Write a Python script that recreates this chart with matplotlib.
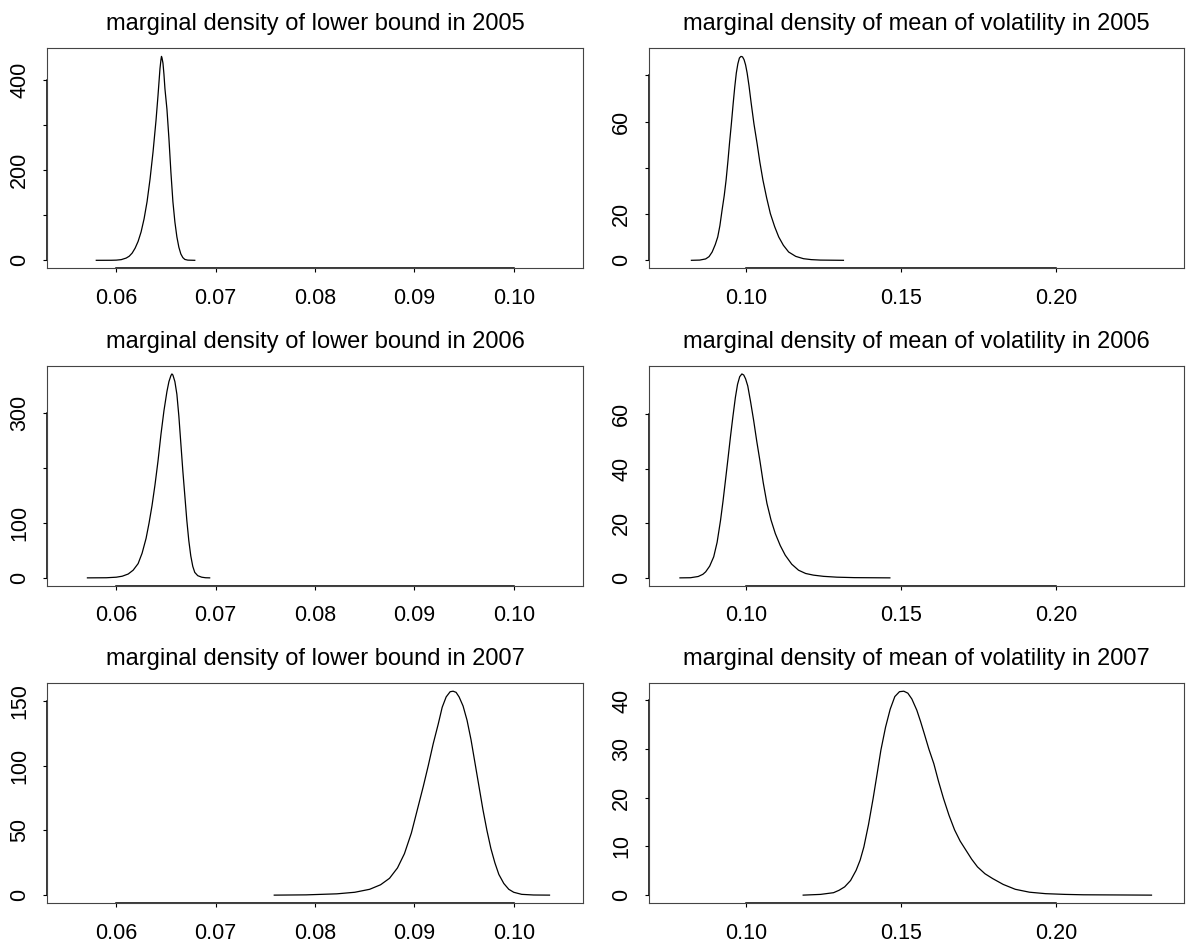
import matplotlib
matplotlib.use('Agg')
import matplotlib.pyplot as plt

plt.rcParams['font.family'] = ['Liberation Sans', 'DejaVu Sans']

# lower bound densities (x, density)
lb05_x = [0.05799, 0.0595, 0.0600, 0.0605, 0.0610, 0.0613, 0.0616, 0.0619, 0.0622, 0.0625, 0.0628,
          0.0631, 0.0634, 0.0637, 0.0640, 0.0642, 0.0643, 0.0644, 0.0645, 0.06455, 0.0646, 0.0647,
          0.0648, 0.0649, 0.0651, 0.0653, 0.0655, 0.0657, 0.0659, 0.0661, 0.0663, 0.0665, 0.0667,
          0.0669, 0.0672, 0.0679]
lb05_y = [0, 0.1, 0.4, 1.5, 5, 9, 16, 27, 42, 63, 92,
          130, 180, 240, 310, 365, 395, 425, 445, 452, 449, 437,
          412, 380, 335, 270, 195, 130, 85, 52, 29, 14, 6,
          2, 0.4, 0]

lb06_x = [0.0571, 0.0590, 0.0600, 0.0606, 0.0612, 0.0617, 0.0622, 0.0626, 0.0630, 0.0633, 0.0636,
          0.0639, 0.0642, 0.0645, 0.0648, 0.0651, 0.0653, 0.0655, 0.0656, 0.0657, 0.0659, 0.0661,
          0.0663, 0.0665, 0.0667, 0.0669, 0.0671, 0.0673, 0.0675, 0.0677, 0.0679, 0.0682, 0.0686,
          0.0690, 0.0694]
lb06_y = [0, 0.2, 1.2, 3, 7, 14, 26, 45, 72, 100, 132,
          170, 213, 262, 305, 340, 358, 369, 372, 370, 358, 335,
          295, 245, 195, 150, 105, 68, 40, 21, 10, 4, 1.2,
          0.2, 0]

lb07_x = [0.0759, 0.0791, 0.0822, 0.0840, 0.0855, 0.0866, 0.0875, 0.0883, 0.0890, 0.0897, 0.0903,
          0.0909, 0.0914, 0.0919, 0.0924, 0.0928, 0.0932, 0.0936, 0.0939, 0.0942, 0.0945, 0.0949,
          0.0953, 0.0957, 0.0961, 0.0965, 0.0969, 0.0973, 0.0977, 0.0981, 0.0985, 0.0990, 0.0995,
          0.1000, 0.1008, 0.1020, 0.1036]
lb07_y = [0, 0.2, 1, 2.2, 4.5, 8, 13, 21, 32, 48, 66,
          84, 100, 117, 132, 145, 153, 157, 157.4, 156.5, 153, 146,
          135, 120, 102, 84, 66, 50, 36, 25, 16, 9, 4.5,
          2.2, 0.6, 0.1, 0]

# mean of volatility densities
mv05_x = [0.0823, 0.0850, 0.0869, 0.0880, 0.0890, 0.0900, 0.0908, 0.0915, 0.0922, 0.0929, 0.0935,
          0.0941, 0.0946, 0.0952, 0.0958, 0.0963, 0.0968, 0.0973, 0.0978, 0.0983, 0.0988, 0.0993,
          0.0998, 0.1003, 0.1009, 0.1016, 0.1025, 0.1035, 0.1044, 0.1054, 0.1066, 0.1078, 0.1092,
          0.1105, 0.1120, 0.1137, 0.1160, 0.1185, 0.1210, 0.1239, 0.1314]
mv05_y = [0, 0.1, 0.6, 1.6, 3.6, 6.8, 10.1, 15, 21.7, 28, 34.7,
          43, 50.6, 59, 68, 75, 81, 85, 87.5, 88.2, 88.0, 86.8,
          84.5, 81, 75.5, 68, 59, 50.6, 42.5, 34.7, 27, 20.2, 14.5,
          10.1, 6.5, 3.6, 1.7, 0.7, 0.3, 0.1, 0]

mv06_x = [0.0786, 0.0820, 0.0845, 0.0860, 0.0869, 0.0882, 0.0895, 0.0906, 0.0917, 0.0925, 0.0933,
          0.0941, 0.0949, 0.0957, 0.0965, 0.0972, 0.0979, 0.0986, 0.0992, 0.0998, 0.1005, 0.1014,
          0.1024, 0.1034, 0.1044, 0.1055, 0.1067, 0.1080, 0.1094, 0.1110, 0.1126, 0.1147, 0.1169,
          0.1192, 0.1217, 0.1250, 0.1293, 0.1350, 0.1464]
mv06_y = [0, 0.05, 0.5, 1.3, 2.2, 4.3, 7.7, 13, 21, 28, 35.7,
          43.5, 51.5, 59, 66, 70.8, 73.6, 74.6, 74.2, 72.8, 70.2, 64.5,
          57.6, 50, 43, 34.8, 27.2, 21.2, 16.2, 11.8, 8.3, 5.0, 2.8,
          1.6, 1.0, 0.55, 0.25, 0.08, 0]

mv07_x = [0.1184, 0.1240, 0.1282, 0.1300, 0.1318, 0.1337, 0.1355, 0.1368, 0.1380, 0.1395, 0.1410,
          0.1423, 0.1435, 0.1450, 0.1465, 0.1480, 0.1495, 0.1509, 0.1522, 0.1535, 0.1551, 0.1563,
          0.1575, 0.1590, 0.1606, 0.1621, 0.1637, 0.1655, 0.1673, 0.1691, 0.1710, 0.1728, 0.1747,
          0.1771, 0.1796, 0.1830, 0.1869, 0.1915, 0.1967, 0.2030, 0.2089, 0.2309]
mv07_y = [0, 0.15, 0.5, 1.0, 1.7, 3.0, 5.1, 7.2, 9.9, 14.5, 19.9,
          25, 29.8, 34.5, 38.2, 40.8, 41.8, 41.9, 41.5, 40.3, 38, 35.7,
          33.2, 30, 27, 23.4, 19.9, 16.4, 13.4, 11.1, 9.2, 7.4, 5.8,
          4.4, 3.4, 2.2, 1.2, 0.6, 0.3, 0.15, 0.07, 0]

years = ['2005', '2006', '2007']
lb_range = (0.055, 0.105)
mv_range = (0.075, 0.235)
lb_xticks = [0.06, 0.07, 0.08, 0.09, 0.10]
mv_xticks = [0.10, 0.15, 0.20]
lb_yticks = [[0, 100, 200, 300, 400], [0, 100, 200, 300], [0, 50, 100, 150]]
lb_ylabels = [['0', '', '200', '', '400'], ['0', '100', '', '300'], ['0', '50', '100', '150']]
mv_yticks = [[0, 20, 40, 60, 80], [0, 20, 40, 60], [0, 10, 20, 30, 40]]
mv_ylabels = [['0', '20', '', '60', ''], ['0', '20', '40', '60'], ['0', '10', '20', '30', '40']]

W, H = 1186, 942
fig = plt.figure(figsize=(W / 100, H / 100), dpi=100)

lefts = [46.7 / W, 649 / W]
widths = [536.6 / W, 535 / W]
bottoms = [0.7150, 0.3779, 0.0411]
height = 0.2338


def rlim(a, b):
    r = b - a
    return a - 0.04 * r, b + 0.04 * r


def panel(ax, xs, ys, xr, xticks, yticks, ylabels, title):
    ax.plot(xs, ys, color='black', lw=0.9)
    ax.set_xlim(*rlim(*xr))
    ax.set_ylim(*rlim(0, max(ys)))
    ax.set_xticks(xticks)
    ax.set_xticklabels(['%.2f' % t for t in xticks])
    ax.set_yticks(yticks)
    ax.set_yticklabels(ylabels, rotation=90, va='center')
    ax.tick_params(axis='both', direction='out', length=3, width=0.8, labelsize=15.5, colors='black')
    ax.tick_params(axis='x', pad=11)
    ax.tick_params(axis='y', pad=9)
    for s in ax.spines.values():
        s.set_color('#444444')
        s.set_linewidth(0.8)
    y0 = ax.get_ylim()[0]
    x0 = ax.get_xlim()[0]
    # R-style axis lines between first and last tick
    ax.plot([xticks[0], xticks[-1]], [y0, y0], color='black', lw=1.1, clip_on=False)
    ax.plot([x0, x0], [yticks[0], yticks[-1]], color='black', lw=1.1, clip_on=False)
    ax.set_title(title, fontsize=17, pad=13)


lb_data = [(lb05_x, lb05_y), (lb06_x, lb06_y), (lb07_x, lb07_y)]
mv_data = [(mv05_x, mv05_y), (mv06_x, mv06_y), (mv07_x, mv07_y)]

for i, yr in enumerate(years):
    ax = fig.add_axes([lefts[0], bottoms[i], widths[0], height])
    panel(ax, lb_data[i][0], lb_data[i][1], lb_range, lb_xticks, lb_yticks[i], lb_ylabels[i],
          'marginal density of lower bound in ' + yr)
    ax = fig.add_axes([lefts[1], bottoms[i], widths[1], height])
    panel(ax, mv_data[i][0], mv_data[i][1], mv_range, mv_xticks, mv_yticks[i], mv_ylabels[i],
          'marginal density of mean of volatility in ' + yr)

fig.savefig('out.png', dpi=100)
